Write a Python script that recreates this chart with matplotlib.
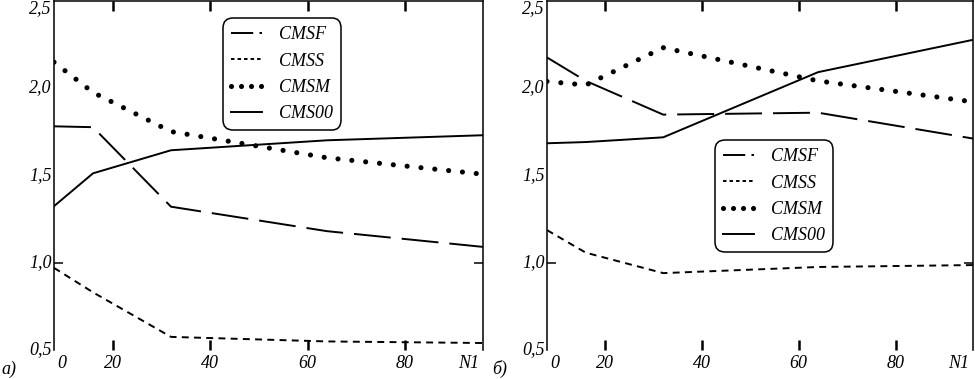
import matplotlib
matplotlib.use('Agg')
import matplotlib.pyplot as plt
from matplotlib.lines import Line2D
from matplotlib.font_manager import FontProperties

plt.rcParams['lines.scale_dashes'] = False

# ---- data ----
x = [8, 16, 32, 64, 96]
labels = ['CMSF', 'CMSS', 'CMSM', 'CMS00']

left_cmsf = [1.78, 1.775, 1.32, 1.18, 1.09]
left_cmss = [0.97, 0.83, 0.575, 0.549, 0.54]
left_cmsm = [2.147, 1.974, 1.75, 1.60, 1.506]
left_cms00 = [1.323, 1.511, 1.643, 1.70, 1.729]

right_cmsf = [2.174, 2.04, 1.847, 1.858, 1.71]
right_cmss = [1.186, 1.057, 0.94, 0.975, 0.986]
right_cmsm = [2.037, 2.016, 2.23, 2.04, 1.92]
right_cms00 = [1.683, 1.69, 1.717, 2.09, 2.275]

xtick_vals = [20, 40, 60, 80]
xtick_labels = ['20', '40', '60', '80']
ytick_vals = [0.5, 1.0, 1.5, 2.0, 2.5]
ytick_labels = ['0,5', '1,0', '1,5', '2,0', '2,5']
panel_labels = ['а)', 'б)']

# ---- styles ----
LW = 1.4
styles = [
    dict(color='k', lw=LW, dashes=(26.6, 7.9)),
    dict(color='k', lw=LW, dashes=(5.0, 3.8)),
    dict(color='k', lw=3.7, dashes=(0.01, 10.0), dash_capstyle='round'),
    dict(color='k', lw=LW, linestyle='-'),
]
leg_styles = [
    dict(color='k', lw=LW, dashes=(16.0, 4.5)),
    dict(color='k', lw=LW, dashes=(2.5, 2.2)),
    dict(color='k', lw=3.7, dashes=(0.01, 7.2), dash_capstyle='round'),
    dict(color='k', lw=LW, linestyle='-'),
]

W, H = 975, 379
fig = plt.figure(figsize=(W / 100, H / 100), dpi=100)
font = FontProperties(family='Liberation Serif', style='italic', size=13)


def px_axes(l, t, r, b):
    return fig.add_axes([l / W, 1 - b / H, (r - l) / W, (b - t) / H])


def setup(ax, series, leg_anchor):
    for ys, st in zip(series, styles):
        ax.plot(x, ys, **st)
    ax.set_xlim(8, 96)
    ax.set_ylim(0.5, 2.5)
    for s in ['left', 'top', 'right']:
        ax.spines[s].set_linewidth(1.1)
    ax.spines['bottom'].set_visible(False)
    ax.set_xticks(xtick_vals)
    ax.set_yticks([1.0])
    ax.tick_params(axis='x', direction='in', top=True, bottom=True, length=7,
                   width=1.8, labelbottom=False)
    ax.tick_params(axis='y', direction='in', left=True, right=True, length=6.5,
                   width=1.1, labelleft=False)
    for v, lab in zip(ytick_vals, ytick_labels):
        ax.annotate(lab, xy=(0, v), xycoords=('axes fraction', 'data'),
                    xytext=(-1.5, 0), textcoords='offset points',
                    ha='right', va='top' if v == 2.5 else 'center',
                    fontproperties=font)
    for v, lab in zip(xtick_vals, xtick_labels):
        ax.annotate(lab, xy=(v, 0), xycoords=('data', 'axes fraction'),
                    xytext=(0, -10), textcoords='offset points',
                    ha='center', va='center', fontproperties=font)
    ax.annotate('0', xy=(0, 0), xycoords='axes fraction', xytext=(5.5, -10),
                textcoords='offset points', ha='center', va='center',
                fontproperties=font)
    ax.annotate('N1', xy=(1, 0), xycoords='axes fraction', xytext=(-2.5, -10),
                textcoords='offset points', ha='right', va='center',
                fontproperties=font)
    handles = [Line2D([], [], **st) for st in leg_styles]
    leg = ax.legend(handles, labels, loc='upper left',
                    bbox_to_anchor=(leg_anchor[0] / W, 1 - leg_anchor[1] / H),
                    bbox_transform=fig.transFigure, prop=font,
                    handlelength=1.72, handletextpad=0.95, labelspacing=0.52,
                    borderpad=0.45, borderaxespad=0, frameon=True,
                    fancybox=True, framealpha=1)
    fr = leg.get_frame()
    fr.set_edgecolor('k')
    fr.set_linewidth(1.1)
    fr.set_boxstyle('round', pad=0, rounding_size=0.55)


ax1 = px_axes(54, 0.5, 483, 350)
ax2 = px_axes(547, 0.5, 973, 350)
setup(ax1, [left_cmsf, left_cmss, left_cmsm, left_cms00], (223, 18))
setup(ax2, [right_cmsf, right_cmss, right_cmsm, right_cms00], (715, 140))

fig.text(1 / W, 1 - 369 / H, panel_labels[0], ha='left', va='center',
         fontproperties=font)
fig.text(492 / W, 1 - 369 / H, panel_labels[1], ha='left', va='center',
         fontproperties=font)

fig.savefig('out.png', dpi=100)
